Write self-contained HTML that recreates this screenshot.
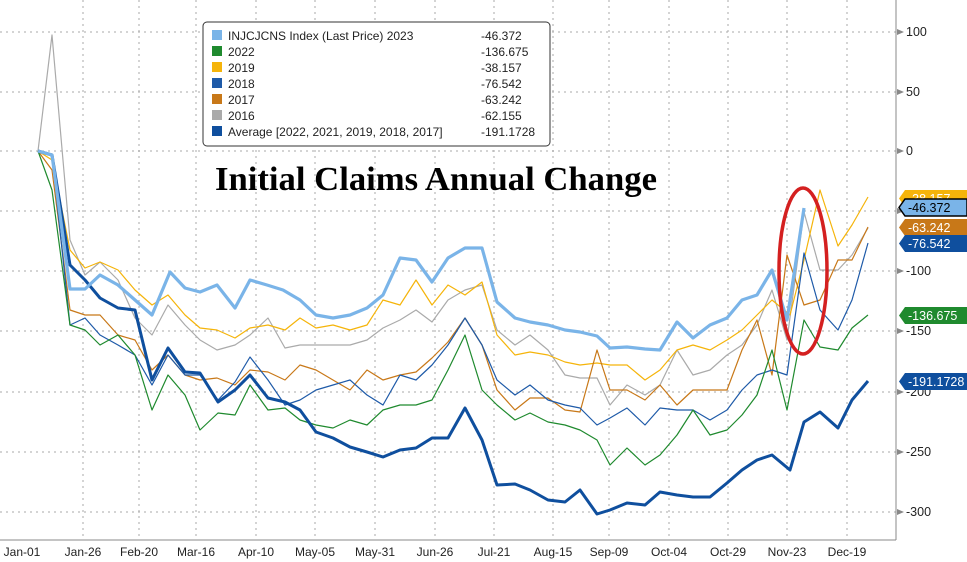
<!DOCTYPE html>
<html><head><meta charset="utf-8"><style>
body{margin:0;background:#fff;}
svg{display:block;font-family:"Liberation Sans",sans-serif;}
</style></head><body>
<svg width="967" height="562" viewBox="0 0 967 562">
<g stroke="#aaa" stroke-width="1" stroke-dasharray="2,4">
<line x1="0" y1="32" x2="896" y2="32"/><line x1="0" y1="92" x2="896" y2="92"/><line x1="0" y1="151" x2="896" y2="151"/><line x1="0" y1="211" x2="896" y2="211"/><line x1="0" y1="271" x2="896" y2="271"/><line x1="0" y1="331" x2="896" y2="331"/><line x1="0" y1="392" x2="896" y2="392"/><line x1="0" y1="452" x2="896" y2="452"/><line x1="0" y1="512" x2="896" y2="512"/>
<line x1="83" y1="0" x2="83" y2="540"/><line x1="139" y1="0" x2="139" y2="540"/><line x1="196" y1="0" x2="196" y2="540"/><line x1="256" y1="0" x2="256" y2="540"/><line x1="315" y1="0" x2="315" y2="540"/><line x1="375" y1="0" x2="375" y2="540"/><line x1="435" y1="0" x2="435" y2="540"/><line x1="494" y1="0" x2="494" y2="540"/><line x1="553" y1="0" x2="553" y2="540"/><line x1="609" y1="0" x2="609" y2="540"/><line x1="669" y1="0" x2="669" y2="540"/><line x1="728" y1="0" x2="728" y2="540"/><line x1="787" y1="0" x2="787" y2="540"/><line x1="847" y1="0" x2="847" y2="540"/>
</g>
<line x1="896" y1="0" x2="896" y2="540" stroke="#888"/>
<line x1="0" y1="540" x2="896" y2="540" stroke="#888"/>
<g fill="none" stroke-linejoin="round">
<polyline stroke="#aaaaaa" stroke-width="1.2" points="38,151 52,35 70,240 85,275 100,262 118,280 135,318 152,335 168,305 185,325 200,340 217,350 235,345 250,335 268,318 285,348 300,345 316,345 333,345 350,345 367,340 383,328 400,320 416,310 432,322 448,300 465,290 482,285 497,330 515,345 530,335 548,350 565,375 580,378 597,378 610,405 627,385 645,395 660,385 677,350 693,375 710,370 727,355 742,345 757,325 772,290 787,340 804,212 820,270 838,270 852,255 868,228"/>
<polyline stroke="#f5b40a" stroke-width="1.2" points="38,151 52,160 70,250 85,268 100,262 118,270 135,290 152,305 168,295 185,315 200,328 217,330 235,338 250,328 268,325 285,330 300,318 316,328 333,325 350,330 367,325 383,300 400,305 416,280 432,305 448,285 465,295 482,282 497,335 515,355 530,352 548,355 565,362 580,365 597,363 610,365 627,365 645,380 660,370 677,350 693,345 710,350 727,340 742,330 757,315 772,300 790,315 804,260 820,190 838,246 852,225 868,197"/>
<polyline stroke="#c87818" stroke-width="1.2" points="38,151 52,170 70,310 85,315 100,315 118,335 135,340 152,370 168,355 185,375 200,380 217,378 235,385 250,370 268,372 285,380 300,365 316,370 333,380 350,390 367,370 383,380 400,375 416,372 432,358 448,342 465,318 482,345 497,390 515,410 530,398 548,398 565,410 580,412 597,350 610,390 627,390 645,400 660,385 677,405 693,390 710,390 727,390 742,350 757,320 772,375 787,255 804,305 820,300 838,260 852,260 868,227"/>
<polyline stroke="#1e5aa8" stroke-width="1.2" points="38,151 52,155 70,325 85,318 100,335 118,345 135,355 152,385 168,355 185,375 200,375 218,400 235,382 250,357 268,380 285,405 300,400 316,390 333,385 350,380 367,395 383,405 400,375 416,380 432,365 448,345 465,318 482,345 497,380 515,395 530,385 548,400 565,405 580,408 597,425 610,418 627,408 645,425 660,408 677,410 693,410 710,420 727,410 742,390 757,375 772,370 787,375 804,253 820,310 838,330 852,300 868,243"/>
<polyline stroke="#1f8a2e" stroke-width="1.2" points="38,151 52,190 70,325 85,330 100,345 118,335 135,355 152,410 168,375 185,395 200,430 218,413 235,415 250,385 268,410 285,408 300,420 316,425 333,428 350,420 367,425 383,410 400,405 416,405 432,400 448,370 465,335 482,390 497,405 515,420 530,413 548,422 565,425 580,430 597,440 610,465 627,448 645,465 660,455 677,435 693,410 710,435 727,430 742,415 757,395 772,350 787,410 804,320 820,347 838,350 852,328 868,315"/>
<polyline stroke="#0f4f9e" stroke-width="3" points="38,151 52,155 70,265 85,280 100,298 118,308 135,310 152,380 168,348 185,372 200,373 218,402 235,390 250,375 268,398 285,402 300,410 316,432 333,438 350,447 367,452 383,457 400,450 416,448 432,438 448,438 465,408 482,440 497,485 515,484 530,490 548,500 565,502 580,490 597,514 610,510 627,503 645,505 660,492 677,495 693,497 710,497 727,483 742,470 757,460 772,455 790,470 804,422 820,412 838,428 852,400 868,381"/>
<polyline stroke="#7ab4e8" stroke-width="3.2" points="38,151 52,155 70,289 85,289 100,275 118,285 135,300 152,315 170,272 185,288 200,292 217,285 235,308 250,280 267,285 283,290 300,300 316,315 333,318 350,315 367,308 383,295 400,258 416,260 432,282 448,258 465,248 482,248 497,302 515,318 530,322 548,325 565,330 580,332 597,336 610,348 627,347 645,349 660,350 677,322 693,338 710,325 727,318 742,300 757,295 772,270 787,320 804,208"/>
</g>
<ellipse cx="803" cy="271" rx="24" ry="83" fill="none" stroke="#d42020" stroke-width="3.5"/>
<text x="436" y="190" text-anchor="middle" font-family="Liberation Serif,serif" font-weight="bold" font-size="34" textLength="442" lengthAdjust="spacingAndGlyphs">Initial Claims Annual Change</text>
<rect x="203" y="22" width="347" height="124" rx="4" fill="#fff" stroke="#333"/>
<g font-size="12" fill="#222">
<rect x="212" y="30" width="10" height="10" fill="#7ab4e8"/><text x="228" y="40">INJCJCNS Index (Last Price) 2023</text><text x="481" y="40">-46.372</text>
<rect x="212" y="46" width="10" height="10" fill="#1f8a2e"/><text x="228" y="56">2022</text><text x="481" y="56">-136.675</text>
<rect x="212" y="62" width="10" height="10" fill="#f5b40a"/><text x="228" y="72">2019</text><text x="481" y="72">-38.157</text>
<rect x="212" y="78" width="10" height="10" fill="#1e5aa8"/><text x="228" y="88">2018</text><text x="481" y="88">-76.542</text>
<rect x="212" y="94" width="10" height="10" fill="#c87818"/><text x="228" y="104">2017</text><text x="481" y="104">-63.242</text>
<rect x="212" y="110" width="10" height="10" fill="#aaaaaa"/><text x="228" y="120">2016</text><text x="481" y="120">-62.155</text>
<rect x="212" y="126" width="10" height="10" fill="#0f4f9e"/><text x="228" y="136">Average  [2022, 2021, 2019, 2018, 2017]</text><text x="481" y="136">-191.1728</text>
</g>
<g font-size="12.5" fill="#222">
<text x="906" y="36">100</text><text x="906" y="96">50</text><text x="906" y="155">0</text><text x="906" y="215">-50</text><text x="906" y="275">-100</text><text x="906" y="335">-150</text><text x="906" y="396">-200</text><text x="906" y="456">-250</text><text x="906" y="516">-300</text>
</g>
<g fill="#888"><path d="M897,29 l7,3 l-7,3z"/><path d="M897,89 l7,3 l-7,3z"/><path d="M897,148 l7,3 l-7,3z"/><path d="M897,208 l7,3 l-7,3z"/><path d="M897,268 l7,3 l-7,3z"/><path d="M897,328 l7,3 l-7,3z"/><path d="M897,389 l7,3 l-7,3z"/><path d="M897,449 l7,3 l-7,3z"/><path d="M897,509 l7,3 l-7,3z"/></g>
<g font-size="12.5">
<path d="M905,190 h62 v17 h-62 l-6,-8.5z" fill="#f5b40a"/><text x="908" y="203" fill="#fff">-38.157</text>
<path d="M905,199 h62 v17 h-62 l-6,-8.5z" fill="#7ab4e8" stroke="#000" stroke-width="1.5"/><text x="908" y="212" fill="#000">-46.372</text>
<path d="M905,219 h62 v17 h-62 l-6,-8.5z" fill="#c87818"/><text x="908" y="232" fill="#fff">-63.242</text>
<path d="M905,235 h62 v17 h-62 l-6,-8.5z" fill="#0f4f9e"/><text x="908" y="248" fill="#fff">-76.542</text>
<path d="M905,307 h62 v17 h-62 l-6,-8.5z" fill="#1f8a2e"/><text x="908" y="320" fill="#fff">-136.675</text>
<path d="M905,373 h62 v17 h-62 l-6,-8.5z" fill="#0f4f9e"/><text x="908" y="386" fill="#fff">-191.1728</text>
</g>
<g font-size="12" fill="#222" text-anchor="middle">
<text x="22" y="556">Jan-01</text><text x="83" y="556">Jan-26</text><text x="139" y="556">Feb-20</text><text x="196" y="556">Mar-16</text><text x="256" y="556">Apr-10</text><text x="315" y="556">May-05</text><text x="375" y="556">May-31</text><text x="435" y="556">Jun-26</text><text x="494" y="556">Jul-21</text><text x="553" y="556">Aug-15</text><text x="609" y="556">Sep-09</text><text x="669" y="556">Oct-04</text><text x="728" y="556">Oct-29</text><text x="787" y="556">Nov-23</text><text x="847" y="556">Dec-19</text>
</g>
</svg>
</body></html>
